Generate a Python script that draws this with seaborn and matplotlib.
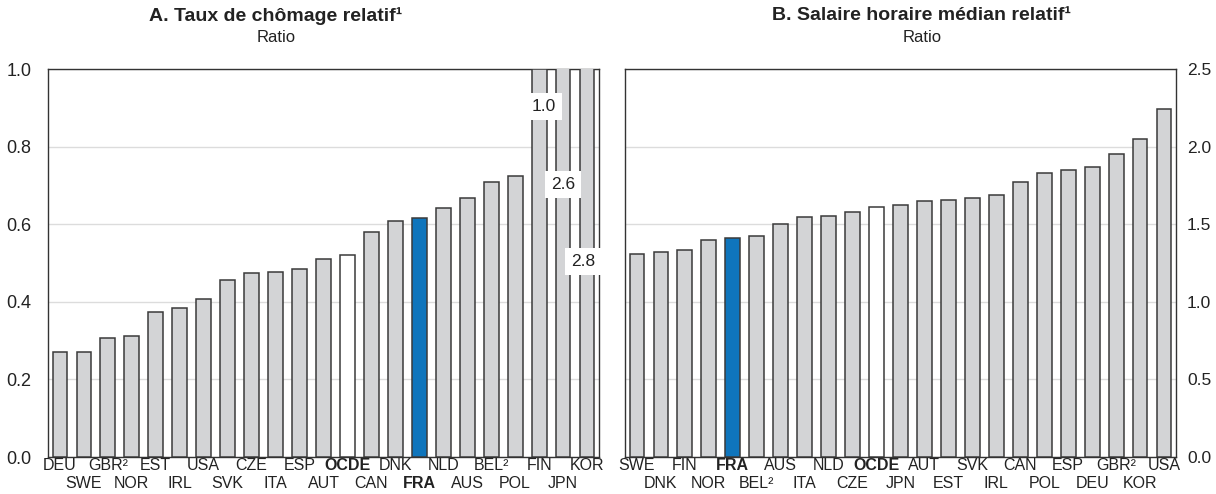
import matplotlib
matplotlib.use("Agg")
import matplotlib.pyplot as plt
import seaborn as sns
import pandas as pd

# ---- Data ----
countries_a = ["DEU", "SWE", "GBR²", "NOR", "EST", "IRL", "USA", "SVK", "CZE", "ITA",
               "ESP", "AUT", "OCDE", "CAN", "DNK", "FRA", "NLD", "AUS", "BEL²", "POL",
               "FIN", "JPN", "KOR"]
values_a = [0.27, 0.271, 0.306, 0.313, 0.375, 0.385, 0.408, 0.455, 0.474, 0.478,
            0.485, 0.51, 0.52, 0.58, 0.607, 0.615, 0.643, 0.667, 0.71, 0.725,
            1.0, 2.6, 2.8]

countries_b = ["SWE", "DNK", "FIN", "NOR", "FRA", "BEL²", "AUS", "ITA", "NLD", "CZE",
               "OCDE", "JPN", "AUT", "EST", "SVK", "IRL", "CAN", "POL", "ESP", "DEU",
               "GBR²", "KOR", "USA"]
values_b = [1.311, 1.322, 1.333, 1.40, 1.41, 1.423, 1.50, 1.546, 1.55, 1.576,
            1.608, 1.626, 1.649, 1.658, 1.667, 1.688, 1.77, 1.83, 1.85, 1.87,
            1.95, 2.05, 2.24]

title_a = "A. Taux de chômage relatif¹"
title_b = "B. Salaire horaire médian relatif¹"
subtitle = "Ratio"
ylim_a = 1.0
ylim_b = 2.5
yticks_a = [0.0, 0.2, 0.4, 0.6, 0.8, 1.0]
yticks_b = [0.0, 0.5, 1.0, 1.5, 2.0, 2.5]

GRAY = "#d3d4d6"
BLUE = "#0f75bc"
WHITE = "#ffffff"
EDGE = "#3a3a3a"
TXT = "#222222"

sns.set_theme(style="white")
plt.rcParams["font.family"] = ["Liberation Sans", "DejaVu Sans"]

fig = plt.figure(figsize=(12.16, 4.94), dpi=100)
W, H = 1216, 494
ax_a = fig.add_axes([48 / W, (H - 457) / H, (599 - 48) / W, (457 - 69) / H])
ax_b = fig.add_axes([625 / W, (H - 457) / H, (1176 - 625) / W, (457 - 69) / H])


def color_for(c):
    if c == "FRA":
        return "FRA"
    if c == "OCDE":
        return "OCDE"
    return "other"


palette = {"FRA": BLUE, "OCDE": WHITE, "other": GRAY}


def draw(ax, countries, values, ymax, yticks, right=False):
    df = pd.DataFrame({"country": countries, "value": values,
                       "grp": [color_for(c) for c in countries]})
    sns.barplot(data=df, x="country", y="value", hue="grp", palette=palette,
                dodge=False, width=0.62, edgecolor=EDGE, linewidth=1.1,
                saturation=1, legend=False, ax=ax, zorder=3)
    ax.set_xlim(-0.5, len(countries) - 0.5)
    ax.set_ylim(0, ymax)
    ax.set_yticks(yticks)
    ax.set_yticklabels([f"{t:.1f}" for t in yticks])
    ax.set_xlabel("")
    ax.set_ylabel("")
    ax.grid(axis="y", color="#dcdcdc", linewidth=1.0, zorder=0)
    ax.grid(axis="x", visible=False)
    ax.set_axisbelow(True)
    for s in ax.spines.values():
        s.set_color("#333333")
        s.set_linewidth(1.0)
    n = len(countries)
    even = list(range(0, n, 2))
    odd = list(range(1, n, 2))
    ax.set_xticks(even)
    ax.set_xticklabels([countries[i] for i in even], fontsize=11.5, color=TXT)
    ax.set_xticks(odd, minor=True)
    ax.set_xticklabels([countries[i] for i in odd], minor=True, fontsize=11.5, color=TXT)
    for t in ax.get_xticklabels() + ax.get_xticklabels(minor=True):
        if t.get_text() in ("FRA", "OCDE"):
            t.set_fontweight("bold")
    ax.tick_params(axis="x", which="major", length=0, pad=0.5)
    ax.tick_params(axis="x", which="minor", length=0, pad=14)
    ax.tick_params(axis="y", length=0, pad=12, labelsize=13, labelcolor=TXT)
    if right:
        ax.yaxis.tick_right()
        ax.tick_params(axis="y", length=0, pad=8, labelsize=12.5)


draw(ax_a, countries_a, values_a, ylim_a, yticks_a)
draw(ax_b, countries_b, values_b, ylim_b, yticks_b, right=True)

# Labels for bars exceeding the axis range
label_y = [0.904, 0.703, 0.504]
label_dx = [0.2, 0.0, -0.15]
for k, idx in enumerate(range(len(values_a) - 3, len(values_a))):
    ax_a.text(idx + label_dx[k], label_y[k], f"{values_a[idx]:.1f}", ha="center",
              va="center", fontsize=12.5, color=TXT, zorder=5,
              bbox=dict(boxstyle="square,pad=0.35", facecolor="white", edgecolor="none"))

# Titles
fig.text(276 / W, 1 - 16 / H, title_a, ha="center", va="center", fontsize=14,
         fontweight="bold", color=TXT)
fig.text(276 / W, 1 - 38 / H, subtitle, ha="center", va="center", fontsize=12,
         color=TXT)
fig.text(922 / W, 1 - 16 / H, title_b, ha="center", va="center", fontsize=14,
         fontweight="bold", color=TXT)
fig.text(922 / W, 1 - 38 / H, subtitle, ha="center", va="center", fontsize=12,
         color=TXT)

fig.savefig("out.png", dpi=100)
